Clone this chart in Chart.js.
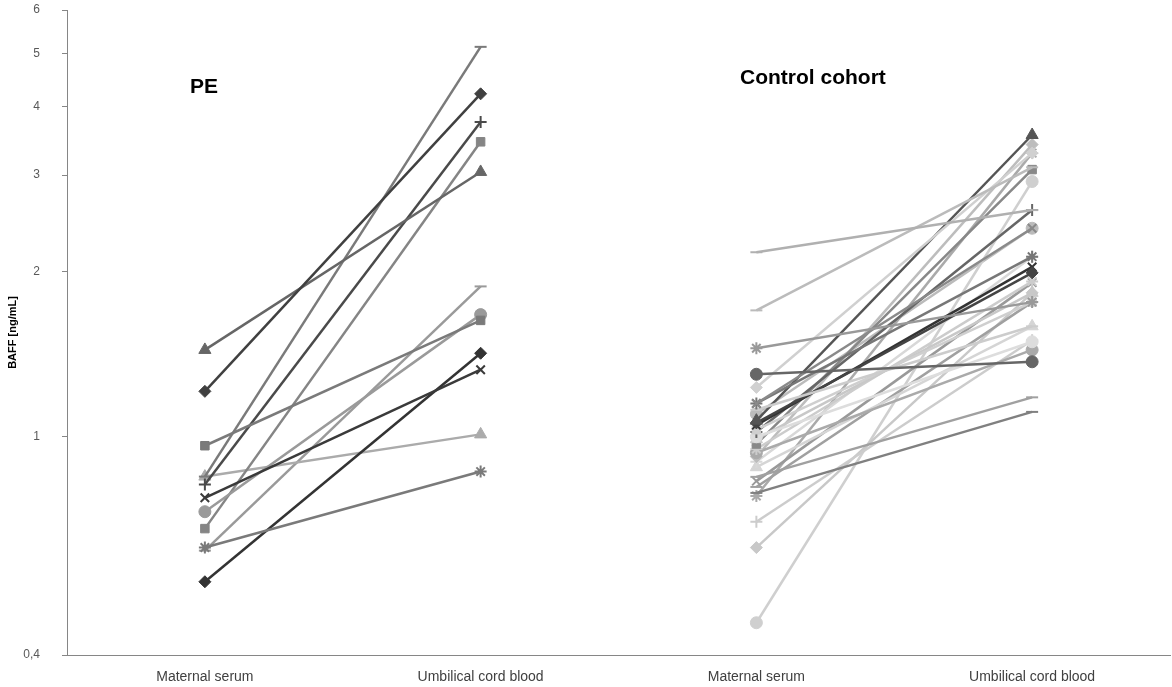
<!DOCTYPE html>
<html>
<head>
<meta charset="utf-8">
<script src="https://cdn.jsdelivr.net/npm/chart.js@4/dist/chart.umd.min.js"></script>
<style>
  body { margin: 0; background: #fff; }
  canvas { display: block; }
</style>
</head>
<body>
<canvas id="baff-chart" width="1172" height="687"></canvas>
<script>
const categories = ['Maternal serum', 'Umbilical cord blood', 'Maternal serum', 'Umbilical cord blood'];
const yTicks = [0.4, 1, 2, 3, 4, 5, 6];

// PE group: maternal serum -> umbilical cord blood
const peMaternal = [1.21, 0.963, 1.44, 0.774, 0.628, 0.73, 0.818, 0.846, 0.544, 0.68, 0.846, 0.62];
const peCord     = [4.22, 1.63, 3.04, 1.325, 0.864, 1.67, 3.75, 5.14, 1.42, 3.45, 1.01, 1.88];
const peMarkers  = ['rectRot', 'rect', 'triangle', 'crossRot', 'star', 'circle', 'cross', 'line', 'rectRot', 'rect', 'triangle', 'line'];
const peColors   = ['#404040', '#7a7a7a', '#666666', '#3a3a3a', '#7a7a7a', '#9a9a9a', '#4a4a4a', '#7a7a7a', '#333333', '#858585', '#ababab', '#9a9a9a'];

// Control cohort
const ctrlMaternal = [2.17, 1.70, 1.45, 1.30, 1.23, 1.15, 1.15, 1.12, 1.07, 1.06, 1.05, 1.03, 1.02, 1.00, 0.99,
                      0.97, 0.95, 0.935, 0.92, 0.90, 0.88, 0.845, 0.83, 0.81, 0.79, 0.78, 0.70, 0.628, 0.458, 1.10];
const ctrlCord     = [2.59, 3.10, 1.76, 1.37, 3.29, 2.40, 2.13, 1.59, 3.55, 1.99, 2.04, 1.76, 2.59, 1.49, 1.83,
                      3.07, 1.92, 1.44, 3.41, 2.13, 1.59, 1.18, 1.91, 1.76, 1.11, 3.29, 1.50, 1.83, 2.92, 2.40];
const ctrlMarkers  = ['line', 'line', 'star', 'circle', 'rectRot', 'crossRot', 'star', 'line', 'triangle', 'rectRot',
                      'crossRot', 'rect', 'cross', 'circle', 'triangle', 'rect', 'star', 'circle', 'rectRot', 'cross',
                      'triangle', 'line', 'crossRot', 'line', 'line', 'star', 'cross', 'rectRot', 'circle', 'circle'];
const ctrlColors   = ['#b0b0b0', '#bbbbbb', '#999999', '#666666', '#d0d0d0', '#8a8a8a', '#777777', '#cccccc', '#555555', '#444444',
                      '#333333', '#cfcfcf', '#666666', '#dddddd', '#c8c8c8', '#888888', '#cccccc', '#aaaaaa', '#bdbdbd', '#d8d8d8',
                      '#d5d5d5', '#a0a0a0', '#999999', '#a0a0a0', '#808080', '#aaaaaa', '#cccccc', '#c8c8c8', '#cfcfcf', '#bbbbbb'];

const makeSeries = (maternal, cord, markers, colors, offset) => {
  return maternal.map((m, i) => {
    let data = [null, null, null, null];
    data[offset] = m;
    data[offset + 1] = cord[i];
    let thin = markers[i] === 'line' || markers[i].startsWith('cross') || markers[i] === 'star';
    return {
      data: data,
      borderColor: colors[i],
      backgroundColor: colors[i],
      pointBackgroundColor: colors[i],
      pointBorderColor: colors[i],
      borderWidth: 2.5,
      pointStyle: markers[i],
      pointRadius: markers[i] === 'triangle' ? 7 : 6,
      pointBorderWidth: thin ? 2 : 1,
      fill: false,
      tension: 0
    };
  });
};

const datasets = makeSeries(peMaternal, peCord, peMarkers, peColors, 0)
  .concat(makeSeries(ctrlMaternal, ctrlCord, ctrlMarkers, ctrlColors, 2));

// group labels drawn on the plot
const groupLabels = {
  id: 'groupLabels',
  afterDraw(chart) {
    const c = chart.ctx;
    c.save();
    c.fillStyle = '#000';
    c.font = 'bold 21px "Liberation Sans", Arial, sans-serif';
    c.textBaseline = 'middle';
    c.fillText('PE', 190, 87);
    c.fillText('Control cohort', 740, 78);
    c.restore();
  }
};

var ctx = document.getElementById('baff-chart').getContext('2d');
var myChart = new Chart(ctx, {
  type: 'line',
  data: {
    labels: categories,
    datasets: datasets
  },
  plugins: [groupLabels],
  options: {
    responsive: false,
    animation: false,
    clip: false,
    layout: { autoPadding: false, padding: { top: 10, right: 2, left: 0, bottom: 0 } },
    plugins: {
      legend: { display: false },
      tooltip: { enabled: false }
    },
    scales: {
      x: {
        type: 'category',
        offset: true,
        grid: { display: false, drawTicks: false },
        border: { display: true, color: '#868686', width: 1 },
        ticks: {
          padding: 14,
          color: '#404040',
          font: { family: '"Liberation Sans Narrow", "Liberation Sans", sans-serif', size: 14 },
          maxRotation: 0,
          autoSkip: false
        },
        afterFit: (scale) => { scale.height = 32; }
      },
      y: {
        type: 'logarithmic',
        min: 0.4,
        max: 6,
        afterBuildTicks: (scale) => {
          scale.ticks = yTicks.map(v => ({ value: v }));
        },
        afterFit: (scale) => {
          scale.width = 67;
          // tick padding otherwise gets added above/below the plot
          scale.paddingTop = 0;
          scale.paddingBottom = 0;
        },
        grid: { drawOnChartArea: false, drawTicks: true, tickLength: 5, color: '#868686' },
        border: { display: true, color: '#868686', width: 1 },
        ticks: {
          padding: 22,
          color: '#595959',
          font: { family: '"Liberation Sans", Arial, sans-serif', size: 12 },
          callback: (v) => String(v).replace('.', ',')
        },
        title: {
          display: true,
          text: 'BAFF [ng/mL]',
          color: '#000',
          font: { family: '"Liberation Sans", Arial, sans-serif', size: 11, weight: 'bold' },
          padding: { top: 6, bottom: 0 }
        }
      }
    }
  }
});
</script>
</body>
</html>
